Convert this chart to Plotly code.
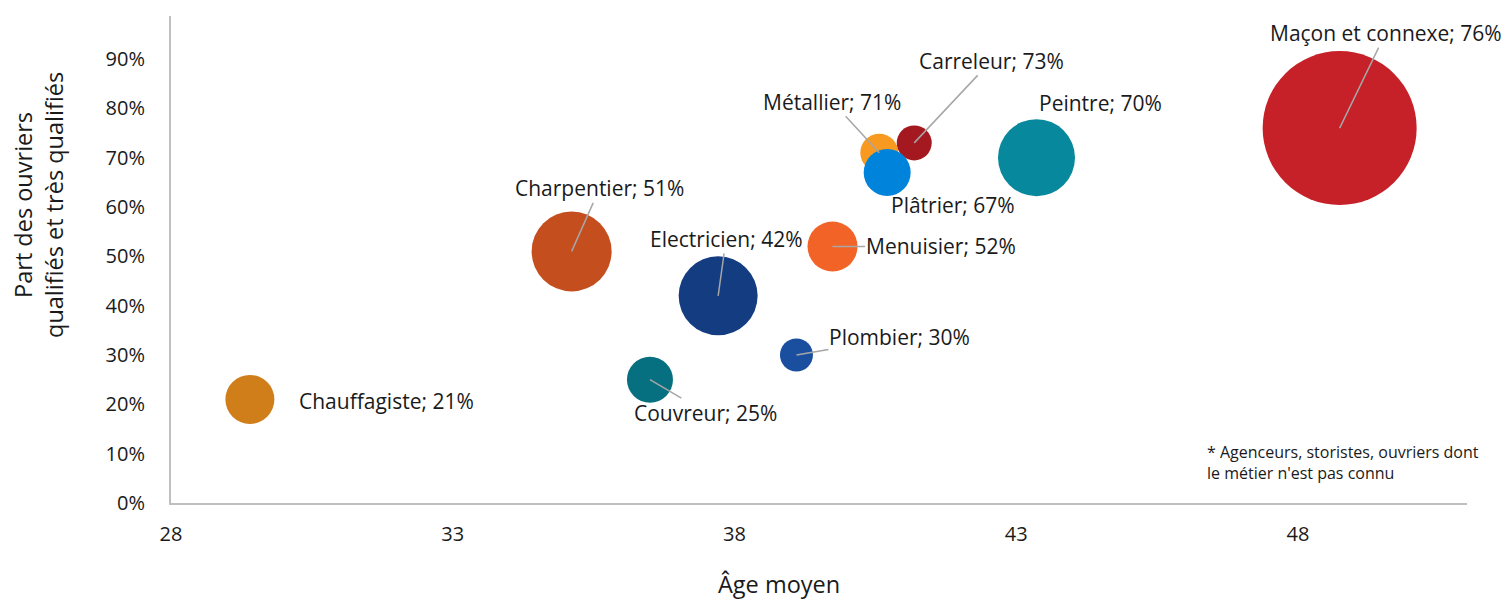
import plotly.graph_objects as go

# Métiers du bâtiment : âge moyen vs part des ouvriers qualifiés
metiers = ["Chauffagiste", "Couvreur", "Charpentier", "Electricien", "Plombier",
           "Menuisier", "Métallier", "Carreleur", "Plâtrier", "Peintre",
           "Maçon et connexe"]
age_moyen = [29.40, 36.50, 35.11, 37.71, 39.10, 39.74, 40.57, 41.19, 40.71, 43.36, 48.74]
part_qualifies = [0.21, 0.25, 0.51, 0.42, 0.30, 0.52, 0.71, 0.73, 0.67, 0.70, 0.76]
taille_bulle = [49, 46, 80, 79, 33, 50, 38, 35, 47, 77, 154]
couleurs = ["#D07E1A", "#077080", "#C54E1F", "#143C80", "#1A4FA0", "#F26327",
            "#F79A1F", "#A4191F", "#0083DB", "#08889C", "#C62028"]

# label offsets (px) and whether a leader line is drawn
label_dx = [137, 56, 28, 8, 103, 108, -47, 77, 66, 64, 46]
label_dy = [2, 33, -63, -57, -18, 0, -51, -82, 33, -55, -95]
leader = [False, True, True, True, True, True, True, True, False, False, True]

y_ticks = [i / 10 for i in range(10)]
y_tick_text = [f"{i * 10}%" for i in range(10)]
x_ticks = [28, 33, 38, 43, 48]

FONT = "Open Sans"
TXT = "#1a1a1a"

fig = go.Figure()
fig.add_trace(go.Scatter(
    x=age_moyen, y=part_qualifies, mode="markers",
    marker=dict(size=taille_bulle, sizemode="diameter", color=couleurs,
                opacity=1, line=dict(width=0)),
    hoverinfo="text", text=metiers, showlegend=False,
))

for m, x, y, dx, dy, ld in zip(metiers, age_moyen, part_qualifies, label_dx, label_dy, leader):
    fig.add_annotation(
        x=x, y=y, xref="x", yref="y",
        text=f"{m}; {round(y * 100)}%",
        showarrow=True, arrowhead=0, arrowwidth=1.5, standoff=0,
        arrowcolor="#A6A6A6" if ld else "rgba(0,0,0,0)",
        ax=dx, ay=dy, axref="pixel", ayref="pixel",
        font=dict(family=FONT, size=21, color=TXT),
        borderpad=0,
    )

W, H = 1507, 600
ml, mr, mt, mb = 171, 40, 16, 97
pw, ph = W - ml - mr, H - mt - mb


def px_to_paper(px, py):
    return (px - ml) / pw, (H - mb - py) / ph


nx, ny = px_to_paper(1205, 462)
fig.add_annotation(
    x=nx, y=ny, xref="paper", yref="paper", showarrow=False,
    text="* Agenceurs, storistes, ouvriers dont<br>le métier n'est pas connu",
    xanchor="left", yanchor="middle", align="left",
    font=dict(family=FONT, size=16, color=TXT),
)

nx, ny = px_to_paper(38, 205)
fig.add_annotation(
    x=nx, y=ny, xref="paper", yref="paper",
    xanchor="center", yanchor="middle",
    text="Part des ouvriers<br>qualifiés et très qualifiés",
    textangle=-90, showarrow=False,
    font=dict(family=FONT, size=23.5, color=TXT),
)

nx, ny = px_to_paper(779, 584)
fig.add_annotation(
    x=nx, y=ny, xref="paper", yref="paper",
    xanchor="center", yanchor="middle",
    text="Âge moyen", showarrow=False,
    font=dict(family=FONT, size=23.5, color=TXT),
)

fig.update_layout(
    width=W, height=H,
    margin=dict(l=ml, r=mr, t=mt, b=mb),
    paper_bgcolor="white", plot_bgcolor="white",
    font=dict(family=FONT, size=20, color=TXT),
    xaxis=dict(range=[28, 51], tickvals=x_ticks, showgrid=False, zeroline=False,
               showline=True, linecolor="#BFBFBF", linewidth=2,
               ticks="", ticklabelstandoff=12,
               tickfont=dict(family=FONT, size=20, color=TXT)),
    yaxis=dict(range=[0, 0.9872], tickvals=y_ticks, ticktext=y_tick_text,
               showgrid=False, zeroline=False, showline=True,
               linecolor="#BFBFBF", linewidth=2, ticks="", ticklabelstandoff=20,
               tickfont=dict(family=FONT, size=20, color=TXT)),
)

fig.write_html("out.html")
